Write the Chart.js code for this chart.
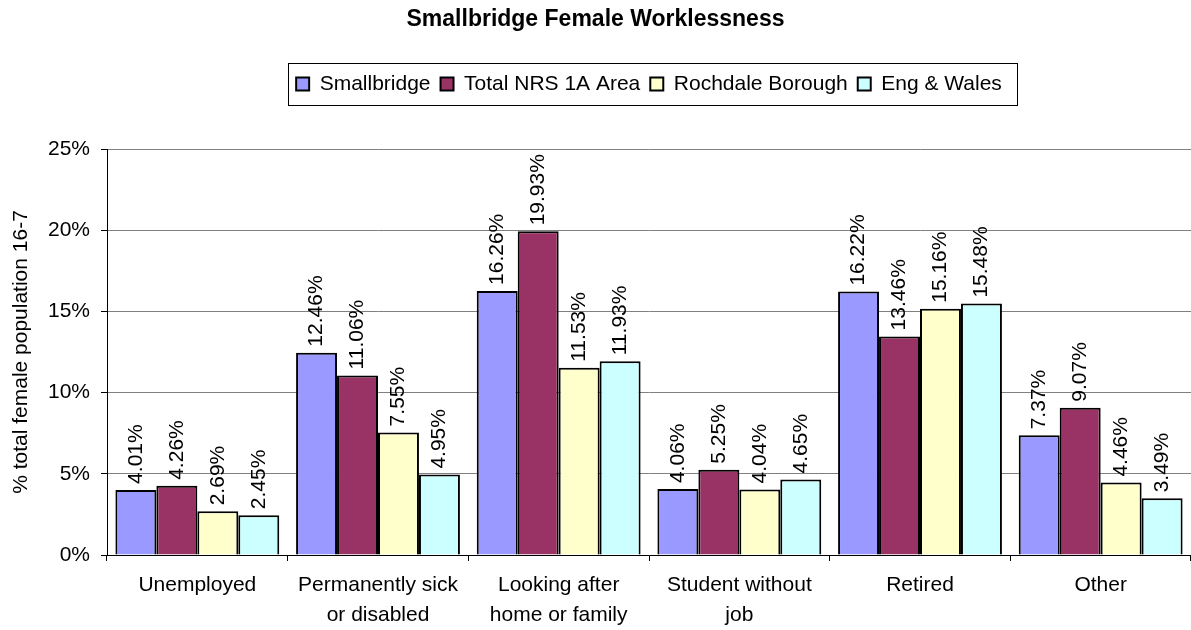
<!DOCTYPE html>
<html>
<head>
<meta charset="utf-8">
<title>Smallbridge Female Worklessness</title>
<script src="https://cdn.jsdelivr.net/npm/chart.js@4/dist/chart.umd.min.js"></script>
<style>
  html, body { margin: 0; padding: 0; background: #fff; }
  #wrap { width: 1191px; height: 630px; }
</style>
</head>
<body>
<div id="wrap"><canvas id="chartWorkless" width="1191" height="630"></canvas></div>
<script>
// categories (two-line labels like the original)
const categories = [
  ['Unemployed'],
  ['Permanently sick', 'or disabled'],
  ['Looking after', 'home or family'],
  ['Student without', 'job'],
  ['Retired'],
  ['Other'],
];

// % of total female population
const smallbridge = [4.01, 12.46, 16.26, 4.06, 16.22, 7.37];
const totalNrs = [4.26, 11.06, 19.93, 5.25, 13.46, 9.07];
const rochdale = [2.69, 7.55, 11.53, 4.04, 15.16, 4.46];
const engWales = [2.45, 4.95, 11.93, 4.65, 15.48, 3.49];

const yTicks = [0, 5, 10, 15, 20, 25];

document.addEventListener('DOMContentLoaded', function () {
  const font = "'Liberation Sans', Arial, sans-serif";
  Chart.defaults.font.family = font;
  Chart.defaults.color = '#000';

  // value labels, rotated, sitting on top of each bar
  const barLabels = {
    id: 'barLabels',
    afterDatasetsDraw(chart) {
      const ctx = chart.ctx;
      ctx.save();
      ctx.font = '21px ' + font;
      ctx.fillStyle = '#000';
      ctx.textAlign = 'left';
      ctx.textBaseline = 'middle';
      chart.data.datasets.forEach((ds, i) => {
        chart.getDatasetMeta(i).data.forEach((bar, j) => {
          ctx.save();
          ctx.translate(bar.x, bar.y - 6);
          ctx.rotate(-Math.PI / 2);
          ctx.fillText(ds.data[j].toFixed(2) + '%', 0, 0);
          ctx.restore();
        });
      });
      ctx.restore();
    },
  };

  // boxed legend + extra room under it
  const legendFrame = {
    id: 'legendFrame',
    beforeLayout(chart) {
      const lg = chart.legend;
      if (lg && !lg._framed) {
        const fit = lg.fit;
        lg.fit = function () { fit.call(this); this.height += 44.5; };
        lg._framed = true;
      }
    },
    afterDraw(chart) {
      const boxes = chart.legend && chart.legend.legendHitBoxes;
      if (!boxes || !boxes.length) return;
      const left = Math.min(...boxes.map(b => b.left)) - 8;
      const right = Math.max(...boxes.map(b => b.left + b.width)) + 15;
      const top = boxes[0].top - 10.5;
      const bottom = boxes[0].top + boxes[0].height + 10.5;
      const ctx = chart.ctx;
      ctx.save();
      ctx.strokeStyle = '#000';
      ctx.lineWidth = 1;
      ctx.strokeRect(Math.round(left) + 0.5, Math.round(top) + 0.5, Math.round(right - left), Math.round(bottom - top));
      ctx.restore();
    },
  };

  const ctx = document.getElementById('chartWorkless');
  new Chart(ctx, {
    type: 'bar',
    data: {
      labels: categories,
      datasets: [
        { label: 'Smallbridge', data: smallbridge, backgroundColor: '#9999FF' },
        { label: 'Total NRS 1A Area', data: totalNrs, backgroundColor: '#993366' },
        { label: 'Rochdale Borough', data: rochdale, backgroundColor: '#FFFFCC' },
        { label: 'Eng & Wales', data: engWales, backgroundColor: '#CCFFFF' },
      ],
    },
    options: {
      responsive: false,
      animation: false,
      layout: { padding: 0 },
      datasets: {
        bar: {
          borderColor: '#000',
          borderWidth: 2,
          categoryPercentage: 0.907,
          barPercentage: 1.0,
        },
      },
      plugins: {
        title: {
          display: true,
          text: 'Smallbridge Female Worklessness',
          font: { size: 23, weight: 'bold' },
          padding: { top: 6.2, bottom: 29.7 },
        },
        legend: {
          position: 'top',
          fullSize: false,
          labels: {
            boxWidth: 13,
            boxHeight: 13,
            padding: 10,
            font: { size: 21 },
          },
        },
        tooltip: { enabled: false },
      },
      scales: {
        x: {
          offset: true,
          grid: { display: true, drawOnChartArea: false, offset: true, tickLength: 6, tickColor: '#000' },
          border: { color: '#000', width: 1 },
          ticks: { padding: 9, maxRotation: 0, autoSkip: false, font: { size: 21, lineHeight: 1.43 } },
          afterFit(scale) { scale.height = 75; },
        },
        y: {
          min: yTicks[0],
          max: yTicks[yTicks.length - 1],
          afterBuildTicks(scale) { scale.ticks = yTicks.map(v => ({ value: v })); },
          grid: { color: '#808080', lineWidth: 1, tickLength: 6, tickColor: '#000' },
          border: { color: '#000', width: 1 },
          ticks: { padding: 11, font: { size: 21 }, callback: v => v + '%' },
          title: {
            display: true,
            text: '% total female population 16-7',
            font: { size: 21 },
            padding: { top: 8.4, bottom: 0 },
          },
          afterFit(scale) { scale.width = 107; },
        },
      },
    },
    plugins: [barLabels, legendFrame],
  });
});
</script>
</body>
</html>
